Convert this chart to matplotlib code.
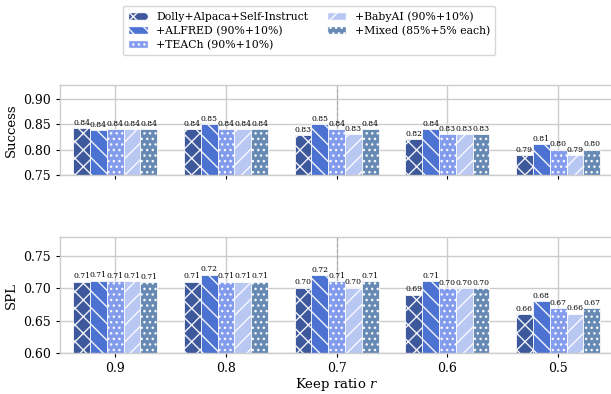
import numpy as np
import matplotlib.pyplot as plt
from matplotlib.patches import Patch

plt.rcParams['font.family'] = 'DejaVu Serif'
plt.rcParams['mathtext.fontset'] = 'dejavuserif'
plt.rcParams['hatch.color'] = 'white'
plt.rcParams['hatch.linewidth'] = 1.0

keep_ratios = ['0.9', '0.8', '0.7', '0.6', '0.5']
series = ['Dolly+Alpaca+Self-Instruct', '+ALFRED (90%+10%)', '+TEACh (90%+10%)',
          '+BabyAI (90%+10%)', '+Mixed (85%+5% each)']

success = [
    [0.842, 0.840, 0.829, 0.820, 0.790],
    [0.838, 0.850, 0.851, 0.840, 0.810],
    [0.840, 0.840, 0.840, 0.830, 0.800],
    [0.840, 0.840, 0.830, 0.830, 0.790],
    [0.841, 0.840, 0.840, 0.830, 0.800],
]
spl = [
    [0.710, 0.710, 0.701, 0.690, 0.660],
    [0.712, 0.721, 0.720, 0.711, 0.680],
    [0.711, 0.710, 0.711, 0.700, 0.669],
    [0.711, 0.710, 0.701, 0.700, 0.661],
    [0.709, 0.710, 0.711, 0.700, 0.669],
]

colors = ['#2c4a93', '#3d66cf', '#7894ec', '#b3c3f3', '#5a80ae']
hatches = ['xx', '\\\\', '...', '//', '...']

fig = plt.figure(figsize=(6.11, 3.94), dpi=100)
ax1 = fig.add_axes([0.098, 0.556, 0.906, 0.228])
ax2 = fig.add_axes([0.098, 0.104, 0.906, 0.294])

x = np.arange(len(keep_ratios))
w = 0.152


def draw(ax, data, ylim, yticks, ylabel):
    ax.set_axisbelow(True)
    ax.grid(True, color='#cccccc', linewidth=1.0)
    for i in range(len(series)):
        pos = x + (i - 2) * w
        bars = ax.bar(pos, data[i], w, color=colors[i], hatch=hatches[i],
                      edgecolor='white', linewidth=0.6, alpha=0.92)
        for b, v in zip(bars, data[i]):
            ax.text(b.get_x() + b.get_width() / 2, v + (ylim[1] - ylim[0]) * 0.012,
                    '%.2f' % v, ha='center', va='bottom', fontsize=5.5)
    # dashed marker at r = 0.7
    ax.axvline(2, color='#aaaaaa', linestyle='--', linewidth=0.8, zorder=0.6)
    ax.set_ylim(*ylim)
    ax.set_yticks(yticks)
    ax.set_xlim(-0.5, 4.5)
    ax.set_xticks(x)
    ax.set_ylabel(ylabel, fontsize=9.5)
    ax.tick_params(labelsize=9, length=3, width=0.8)
    for s in ax.spines.values():
        s.set_color('#cccccc')
        s.set_linewidth(1.0)


draw(ax1, success, (0.75, 0.927), [0.75, 0.80, 0.85, 0.90], 'Success')
ax1.set_xticklabels([])
draw(ax2, spl, (0.60, 0.779), [0.60, 0.65, 0.70, 0.75], 'SPL')
ax2.set_xticklabels(keep_ratios)
ax2.set_xlabel('Keep ratio $r$', fontsize=9.5, labelpad=1)

handles = [Patch(facecolor=colors[i], hatch=hatches[i], edgecolor='white',
                 alpha=0.92, label=series[i]) for i in range(len(series))]
fig.legend(handles=handles, loc='upper center', bbox_to_anchor=(0.506, 0.998),
           ncol=2, fontsize=7.85, frameon=True, handlelength=1.8,
           labelspacing=0.35, columnspacing=1.7, borderpad=0.45, handletextpad=0.8)

fig.savefig('out.png', dpi=100)
